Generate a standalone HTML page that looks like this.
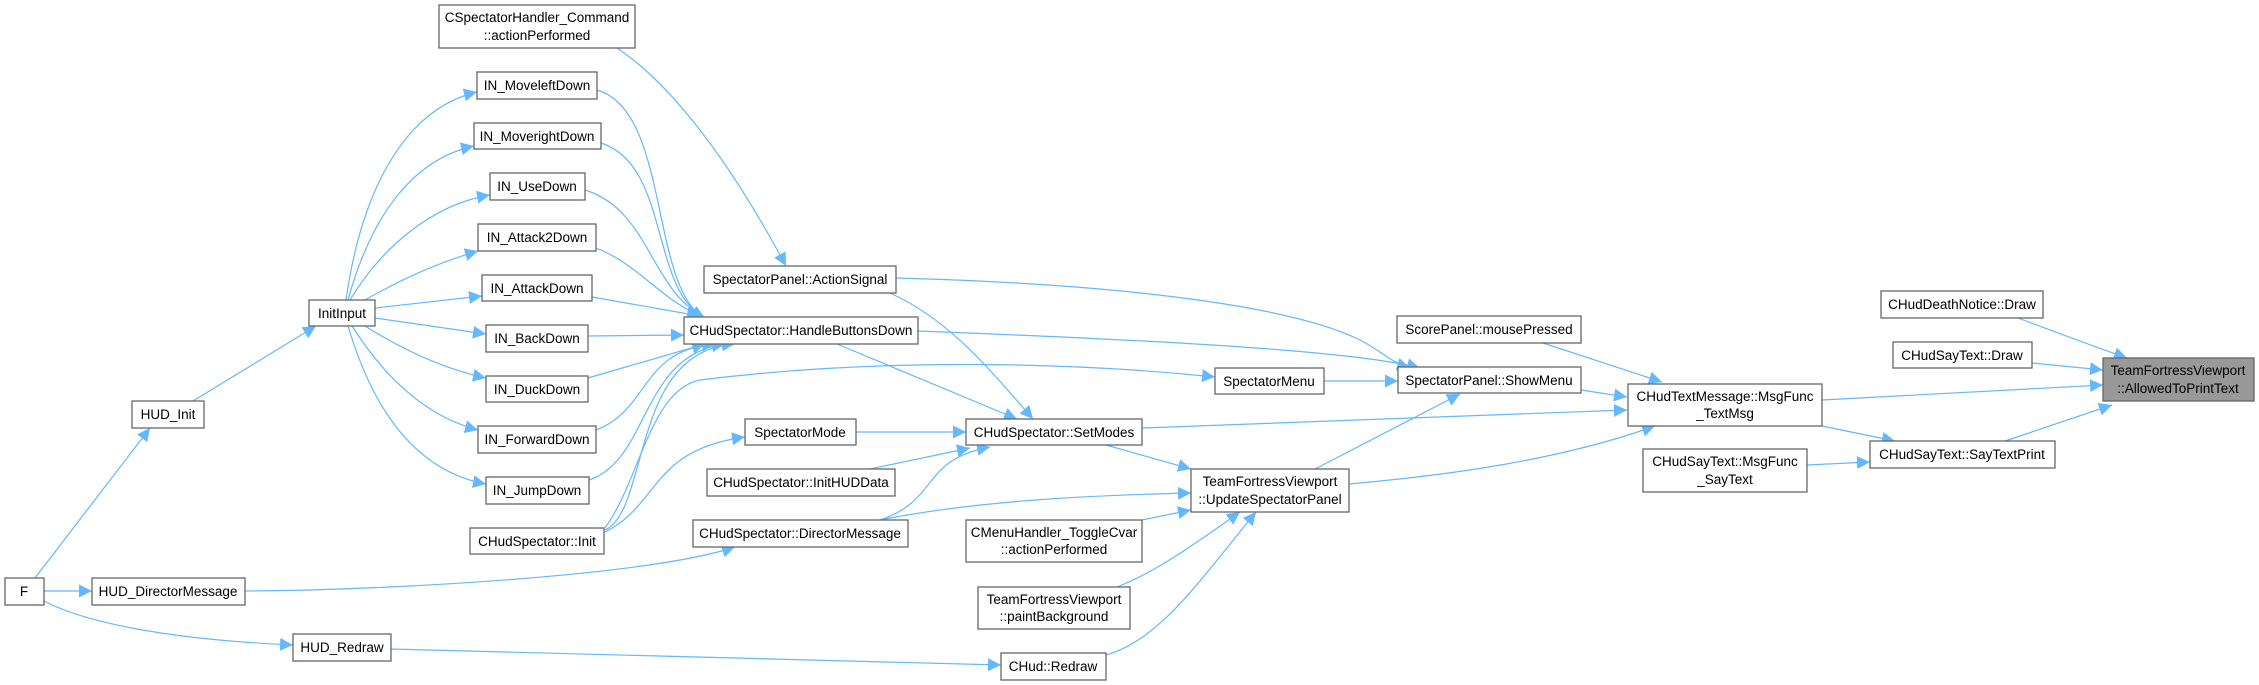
<!DOCTYPE html>
<html><head><meta charset="utf-8"><style>
html,body{margin:0;padding:0;background:#fff;}
svg{display:block;}
text{font-family:"Liberation Sans",sans-serif;font-size:13.5px;fill:#000;}
.n{fill:#fff;stroke:#666;stroke-width:1.3;}
.e{fill:none;stroke:#63b8ff;stroke-width:1.2;}
</style></head><body>
<svg width="2259" height="685" viewBox="0 0 2259 685" xmlns="http://www.w3.org/2000/svg">
<defs><marker id="a" viewBox="0 0 10 10" refX="10" refY="5" markerWidth="13" markerHeight="13" markerUnits="userSpaceOnUse" orient="auto"><path d="M0,0 L10,5 L0,10 z" fill="#63b8ff"/></marker></defs>
<g class="e" marker-end="url(#a)">
<path d="M35,578 L150,428"/>
<path d="M44,591 L92,591"/>
<path d="M44,601 C90,625 180,640 293,645"/>
<path d="M193,401 L316,326"/>
<path d="M346,300 C360,200 400,110 477,92"/>
<path d="M348,300 C370,220 410,160 474,146"/>
<path d="M350,300 C380,250 430,205 490,195"/>
<path d="M365,300 C400,280 440,262 478,251"/>
<path d="M375,308 L482,296"/>
<path d="M375,318 L486,334"/>
<path d="M365,326 C400,348 440,368 486,378"/>
<path d="M352,326 C380,370 420,415 478,430"/>
<path d="M348,326 C370,400 410,470 486,484"/>
<path d="M597,90 C670,110 650,290 705,318"/>
<path d="M601,143 C670,165 650,290 705,318"/>
<path d="M585,190 C650,210 650,290 705,318"/>
<path d="M596,248 C640,265 660,300 705,318"/>
<path d="M592,297 L700,316"/>
<path d="M588,336 L684,335"/>
<path d="M588,378 L705,344"/>
<path d="M596,430 C650,410 640,350 715,344"/>
<path d="M589,480 C650,460 640,355 725,344"/>
<path d="M605,530 C650,510 630,350 735,344"/>
<path d="M605,532 C660,505 650,450 745,437"/>
<path d="M605,528 C640,480 650,390 700,380 C900,355 1100,365 1215,377"/>
<path d="M617,48 C680,90 740,180 786,266"/>
<path d="M896,278 C1150,285 1300,310 1360,340 C1380,350 1390,362 1410,368"/>
<path d="M890,293 C950,320 990,370 1033,419"/>
<path d="M918,331 C1150,340 1350,350 1420,368"/>
<path d="M837,344 L1017,419"/>
<path d="M1324,381 L1398,381"/>
<path d="M856,432 L966,432"/>
<path d="M870,469 L970,448"/>
<path d="M880,520 C940,500 920,460 990,447"/>
<path d="M880,520 C980,500 1100,495 1191,493"/>
<path d="M245,591 C400,590 650,575 735,547"/>
<path d="M391,649 L1001,665"/>
<path d="M1106,445 L1191,469"/>
<path d="M1142,428 L1627,410"/>
<path d="M1142,520 L1191,510"/>
<path d="M1117,587 C1160,570 1200,540 1240,512"/>
<path d="M1106,655 C1160,640 1200,580 1256,512"/>
<path d="M1315,469 L1460,394"/>
<path d="M1349,484 C1450,475 1560,460 1655,426"/>
<path d="M1543,343 L1662,382"/>
<path d="M1581,390 L1627,397"/>
<path d="M1822,400 L2103,385"/>
<path d="M1822,426 L1895,441"/>
<path d="M2018,318 C2050,330 2090,345 2127,358"/>
<path d="M2032,363 L2103,370"/>
<path d="M2005,441 L2112,405"/>
<path d="M1807,465 L1870,462"/>
</g>
<g>
<rect class="n" x="439" y="5" width="196" height="43"/><text x="537" y="22" text-anchor="middle">CSpectatorHandler_Command</text><text x="537" y="40" text-anchor="middle">::actionPerformed</text>
<rect class="n" x="477" y="72" width="120" height="27"/><text x="537" y="90" text-anchor="middle">IN_MoveleftDown</text>
<rect class="n" x="474" y="123" width="127" height="26"/><text x="537" y="141" text-anchor="middle">IN_MoverightDown</text>
<rect class="n" x="490" y="173" width="95" height="27"/><text x="537" y="191" text-anchor="middle">IN_UseDown</text>
<rect class="n" x="478" y="224" width="118" height="27"/><text x="537" y="242" text-anchor="middle">IN_Attack2Down</text>
<rect class="n" x="482" y="275" width="110" height="26"/><text x="537" y="293" text-anchor="middle">IN_AttackDown</text>
<rect class="n" x="486" y="325" width="102" height="27"/><text x="537" y="343" text-anchor="middle">IN_BackDown</text>
<rect class="n" x="486" y="376" width="102" height="26"/><text x="537" y="394" text-anchor="middle">IN_DuckDown</text>
<rect class="n" x="478" y="426" width="118" height="27"/><text x="537" y="444" text-anchor="middle">IN_ForwardDown</text>
<rect class="n" x="486" y="477" width="103" height="27"/><text x="537" y="495" text-anchor="middle">IN_JumpDown</text>
<rect class="n" x="470" y="528" width="134" height="26"/><text x="537" y="546" text-anchor="middle">CHudSpectator::Init</text>
<rect class="n" x="309" y="300" width="66" height="26"/><text x="342" y="318" text-anchor="middle">InitInput</text>
<rect class="n" x="132" y="401" width="72" height="27"/><text x="168" y="419" text-anchor="middle">HUD_Init</text>
<rect class="n" x="5" y="578" width="39" height="27"/><text x="24" y="596" text-anchor="middle">F</text>
<rect class="n" x="92" y="578" width="153" height="27"/><text x="168" y="596" text-anchor="middle">HUD_DirectorMessage</text>
<rect class="n" x="293" y="634" width="98" height="27"/><text x="342" y="652" text-anchor="middle">HUD_Redraw</text>
<rect class="n" x="704" y="266" width="192" height="27"/><text x="800" y="284" text-anchor="middle">SpectatorPanel::ActionSignal</text>
<rect class="n" x="684" y="317" width="234" height="27"/><text x="801" y="335" text-anchor="middle">CHudSpectator::HandleButtonsDown</text>
<rect class="n" x="745" y="419" width="111" height="26"/><text x="800" y="437" text-anchor="middle">SpectatorMode</text>
<rect class="n" x="707" y="469" width="188" height="27"/><text x="801" y="487" text-anchor="middle">CHudSpectator::InitHUDData</text>
<rect class="n" x="693" y="520" width="215" height="27"/><text x="800" y="538" text-anchor="middle">CHudSpectator::DirectorMessage</text>
<rect class="n" x="966" y="419" width="176" height="26"/><text x="1054" y="437" text-anchor="middle">CHudSpectator::SetModes</text>
<rect class="n" x="966" y="520" width="176" height="42"/><text x="1054" y="537" text-anchor="middle">CMenuHandler_ToggleCvar</text><text x="1054" y="554" text-anchor="middle">::actionPerformed</text>
<rect class="n" x="978" y="587" width="152" height="42"/><text x="1054" y="604" text-anchor="middle">TeamFortressViewport</text><text x="1054" y="621" text-anchor="middle">::paintBackground</text>
<rect class="n" x="1001" y="653" width="105" height="27"/><text x="1053" y="671" text-anchor="middle">CHud::Redraw</text>
<rect class="n" x="1215" y="368" width="109" height="26"/><text x="1269" y="386" text-anchor="middle">SpectatorMenu</text>
<rect class="n" x="1191" y="469" width="158" height="43"/><text x="1270" y="486" text-anchor="middle">TeamFortressViewport</text><text x="1270" y="504" text-anchor="middle">::UpdateSpectatorPanel</text>
<rect class="n" x="1397" y="316" width="184" height="27"/><text x="1489" y="334" text-anchor="middle">ScorePanel::mousePressed</text>
<rect class="n" x="1398" y="367" width="183" height="26"/><text x="1489" y="385" text-anchor="middle">SpectatorPanel::ShowMenu</text>
<rect class="n" x="1628" y="384" width="194" height="42"/><text x="1725" y="401" text-anchor="middle">CHudTextMessage::MsgFunc</text><text x="1725" y="418" text-anchor="middle">_TextMsg</text>
<rect class="n" x="1643" y="449" width="164" height="43"/><text x="1725" y="466" text-anchor="middle">CHudSayText::MsgFunc</text><text x="1725" y="484" text-anchor="middle">_SayText</text>
<rect class="n" x="1881" y="291" width="162" height="27"/><text x="1962" y="309" text-anchor="middle">CHudDeathNotice::Draw</text>
<rect class="n" x="1893" y="342" width="139" height="26"/><text x="1962" y="360" text-anchor="middle">CHudSayText::Draw</text>
<rect class="n" x="1870" y="441" width="185" height="27"/><text x="1962" y="459" text-anchor="middle">CHudSayText::SayTextPrint</text>
<rect x="2103" y="358" width="151" height="43" fill="#999" stroke="#666" stroke-width="1.3"/><text x="2178" y="375" text-anchor="middle">TeamFortressViewport</text><text x="2178" y="393" text-anchor="middle">::AllowedToPrintText</text>
</g>
</svg>
</body></html>
